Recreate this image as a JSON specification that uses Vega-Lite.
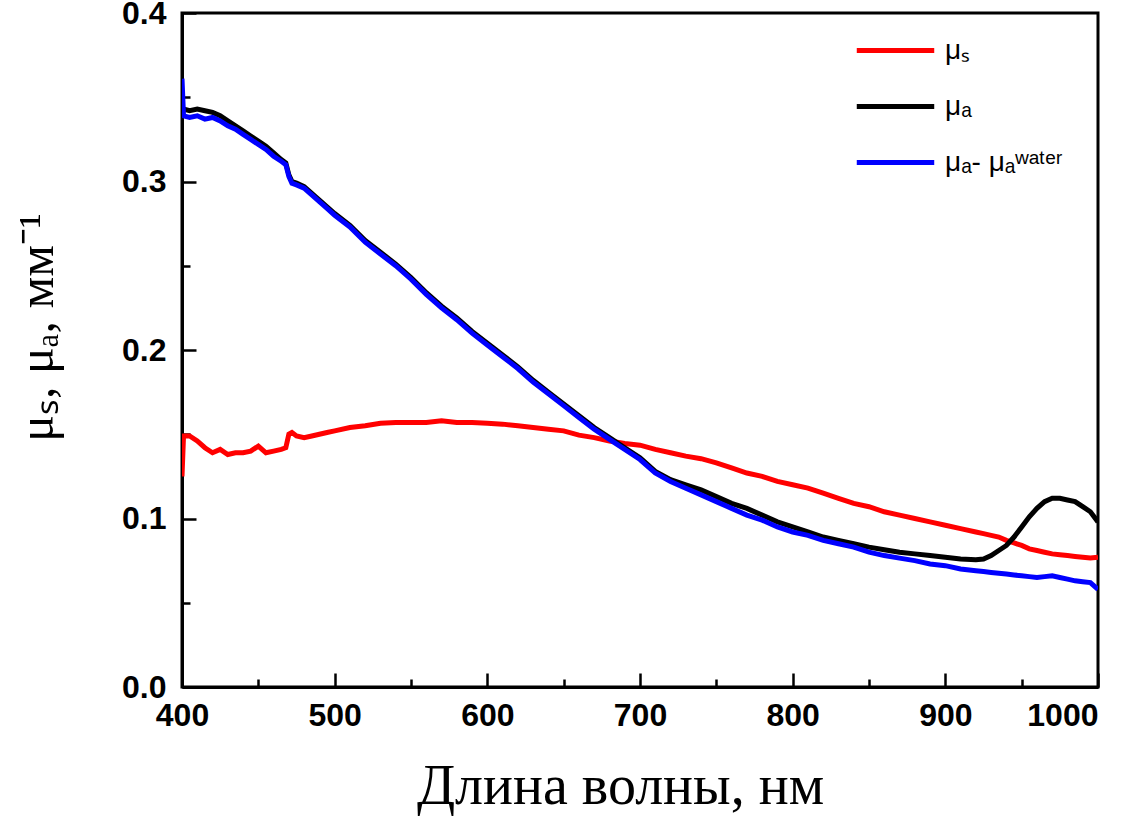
{
  "$schema": "https://vega.github.io/schema/vega-lite/v6.json",
  "autosize": "none",
  "width": 916,
  "height": 674,
  "padding": {"left": 182, "top": 13, "right": 26, "bottom": 141},
  "background": "white",
  "config": {
    "view": {"stroke": "black", "strokeWidth": 3},
    "axis": {
      "domainColor": "black", "domainWidth": 3, "tickColor": "black", "tickWidth": 2.5,
      "labelColor": "black", "titleColor": "black", "grid": false
    }
  },
  "data": {"values": [
    {"wl": 400, "mus": 0.125, "mua": 0.340, "muaw": 0.361},
    {"wl": 401, "mus": 0.149, "mua": 0.343, "muaw": 0.339},
    {"wl": 405, "mus": 0.149, "mua": 0.342, "muaw": 0.338},
    {"wl": 410, "mus": 0.146, "mua": 0.343, "muaw": 0.339},
    {"wl": 415, "mus": 0.142, "mua": 0.342, "muaw": 0.337},
    {"wl": 420, "mus": 0.139, "mua": 0.341, "muaw": 0.338},
    {"wl": 425, "mus": 0.141, "mua": 0.339, "muaw": 0.336},
    {"wl": 430, "mus": 0.138, "mua": 0.336, "muaw": 0.333},
    {"wl": 435, "mus": 0.139, "mua": 0.333, "muaw": 0.331},
    {"wl": 440, "mus": 0.139, "mua": 0.330, "muaw": 0.328},
    {"wl": 445, "mus": 0.140, "mua": 0.327, "muaw": 0.325},
    {"wl": 450, "mus": 0.143, "mua": 0.324, "muaw": 0.322},
    {"wl": 455, "mus": 0.139, "mua": 0.321, "muaw": 0.319},
    {"wl": 460, "mus": 0.140, "mua": 0.317, "muaw": 0.315},
    {"wl": 465, "mus": 0.141, "mua": 0.313, "muaw": 0.312},
    {"wl": 468, "mus": 0.142, "mua": 0.311, "muaw": 0.310},
    {"wl": 470, "mus": 0.150, "mua": 0.304, "muaw": 0.303},
    {"wl": 472, "mus": 0.151, "mua": 0.300, "muaw": 0.299},
    {"wl": 475, "mus": 0.149, "mua": 0.299, "muaw": 0.298},
    {"wl": 480, "mus": 0.148, "mua": 0.297, "muaw": 0.296},
    {"wl": 485, "mus": 0.149, "mua": 0.293, "muaw": 0.292},
    {"wl": 490, "mus": 0.150, "mua": 0.289, "muaw": 0.288},
    {"wl": 495, "mus": 0.151, "mua": 0.285, "muaw": 0.284},
    {"wl": 500, "mus": 0.152, "mua": 0.281, "muaw": 0.280},
    {"wl": 510, "mus": 0.154, "mua": 0.274, "muaw": 0.273},
    {"wl": 520, "mus": 0.155, "mua": 0.265, "muaw": 0.264},
    {"wl": 530, "mus": 0.1565, "mua": 0.258, "muaw": 0.257},
    {"wl": 540, "mus": 0.157, "mua": 0.251, "muaw": 0.250},
    {"wl": 550, "mus": 0.157, "mua": 0.243, "muaw": 0.242},
    {"wl": 560, "mus": 0.157, "mua": 0.234, "muaw": 0.233},
    {"wl": 570, "mus": 0.158, "mua": 0.226, "muaw": 0.225},
    {"wl": 580, "mus": 0.157, "mua": 0.219, "muaw": 0.218},
    {"wl": 590, "mus": 0.157, "mua": 0.211, "muaw": 0.210},
    {"wl": 600, "mus": 0.1565, "mua": 0.204, "muaw": 0.203},
    {"wl": 610, "mus": 0.156, "mua": 0.197, "muaw": 0.196},
    {"wl": 620, "mus": 0.155, "mua": 0.190, "muaw": 0.189},
    {"wl": 630, "mus": 0.154, "mua": 0.182, "muaw": 0.181},
    {"wl": 640, "mus": 0.153, "mua": 0.175, "muaw": 0.174},
    {"wl": 650, "mus": 0.152, "mua": 0.168, "muaw": 0.167},
    {"wl": 660, "mus": 0.1495, "mua": 0.161, "muaw": 0.160},
    {"wl": 670, "mus": 0.148, "mua": 0.154, "muaw": 0.153},
    {"wl": 680, "mus": 0.146, "mua": 0.148, "muaw": 0.147},
    {"wl": 690, "mus": 0.1445, "mua": 0.142, "muaw": 0.141},
    {"wl": 700, "mus": 0.1435, "mua": 0.136, "muaw": 0.135},
    {"wl": 710, "mus": 0.141, "mua": 0.128, "muaw": 0.127},
    {"wl": 720, "mus": 0.139, "mua": 0.123, "muaw": 0.122},
    {"wl": 730, "mus": 0.137, "mua": 0.120, "muaw": 0.118},
    {"wl": 740, "mus": 0.1355, "mua": 0.117, "muaw": 0.114},
    {"wl": 750, "mus": 0.133, "mua": 0.113, "muaw": 0.110},
    {"wl": 760, "mus": 0.130, "mua": 0.109, "muaw": 0.106},
    {"wl": 770, "mus": 0.127, "mua": 0.106, "muaw": 0.102},
    {"wl": 780, "mus": 0.125, "mua": 0.102, "muaw": 0.099},
    {"wl": 790, "mus": 0.122, "mua": 0.098, "muaw": 0.095},
    {"wl": 800, "mus": 0.120, "mua": 0.095, "muaw": 0.092},
    {"wl": 810, "mus": 0.118, "mua": 0.092, "muaw": 0.090},
    {"wl": 820, "mus": 0.115, "mua": 0.089, "muaw": 0.087},
    {"wl": 830, "mus": 0.112, "mua": 0.087, "muaw": 0.085},
    {"wl": 840, "mus": 0.109, "mua": 0.085, "muaw": 0.083},
    {"wl": 850, "mus": 0.107, "mua": 0.083, "muaw": 0.080},
    {"wl": 860, "mus": 0.104, "mua": 0.0815, "muaw": 0.078},
    {"wl": 870, "mus": 0.102, "mua": 0.080, "muaw": 0.0765},
    {"wl": 880, "mus": 0.100, "mua": 0.079, "muaw": 0.075},
    {"wl": 890, "mus": 0.098, "mua": 0.078, "muaw": 0.073},
    {"wl": 900, "mus": 0.096, "mua": 0.077, "muaw": 0.072},
    {"wl": 910, "mus": 0.094, "mua": 0.076, "muaw": 0.070},
    {"wl": 920, "mus": 0.092, "mua": 0.0755, "muaw": 0.069},
    {"wl": 925, "mus": 0.091, "mua": 0.076, "muaw": 0.0685},
    {"wl": 930, "mus": 0.090, "mua": 0.078, "muaw": 0.068},
    {"wl": 935, "mus": 0.089, "mua": 0.081, "muaw": 0.0675},
    {"wl": 940, "mus": 0.087, "mua": 0.084, "muaw": 0.067},
    {"wl": 945, "mus": 0.0855, "mua": 0.089, "muaw": 0.0665},
    {"wl": 950, "mus": 0.084, "mua": 0.095, "muaw": 0.066},
    {"wl": 955, "mus": 0.082, "mua": 0.101, "muaw": 0.0655},
    {"wl": 960, "mus": 0.081, "mua": 0.106, "muaw": 0.065},
    {"wl": 965, "mus": 0.080, "mua": 0.110, "muaw": 0.0655},
    {"wl": 970, "mus": 0.079, "mua": 0.112, "muaw": 0.066},
    {"wl": 975, "mus": 0.0785, "mua": 0.112, "muaw": 0.065},
    {"wl": 980, "mus": 0.078, "mua": 0.111, "muaw": 0.064},
    {"wl": 985, "mus": 0.0775, "mua": 0.110, "muaw": 0.063},
    {"wl": 990, "mus": 0.077, "mua": 0.107, "muaw": 0.0625},
    {"wl": 995, "mus": 0.0765, "mua": 0.104, "muaw": 0.062},
    {"wl": 1000, "mus": 0.077, "mua": 0.098, "muaw": 0.058}
  ]},
  "transform": [{"fold": ["mus", "mua", "muaw"], "as": ["series", "value"]}],
  "layer": [
    {
      "mark": {"type": "line", "strokeWidth": 5, "clip": true},
      "encoding": {
        "x": {
          "field": "wl", "type": "quantitative",
          "scale": {"domain": [400, 1000], "nice": false, "zero": false},
          "axis": {
            "orient": "bottom", "values": [400, 500, 600, 700, 800, 900, 1000], "format": "d",
            "tickSize": -14, "labelPadding": 27,
            "labelFont": "Liberation Sans", "labelFontWeight": "bold", "labelFontSize": 32,
            "labelAlign": {"condition": {"test": "datum.value == 1000", "value": "right"}, "value": "center"},
            "labelDx": {"condition": {"test": "datum.value == 1000", "value": 2}, "value": 0},
            "title": "Длина волны, нм",
            "titleFont": "Liberation Serif", "titleFontWeight": "normal", "titleFontSize": 56,
            "titleX": 438, "titleY": 116, "titleBaseline": "alphabetic"
          }
        },
        "y": {
          "field": "value", "type": "quantitative",
          "scale": {"domain": [0, 0.4], "nice": false},
          "axis": {
            "orient": "left", "values": [0, 0.1, 0.2, 0.3, 0.4], "format": ".1f",
            "tickSize": -14, "labelPadding": 30,
            "labelFont": "Liberation Sans", "labelFontWeight": "bold", "labelFontSize": 32,
            "title": "μₛ, μₐ, мм⁻¹",
            "titleFont": "Liberation Serif", "titleFontWeight": "normal", "titleFontSize": 50,
            "titleX": -130, "titleY": 314, "titleBaseline": "alphabetic", "titleAngle": -90
          }
        },
        "color": {
          "field": "series", "type": "nominal",
          "scale": {"domain": ["mus", "mua", "muaw"], "range": ["#ff0000", "#000000", "#0000ff"]},
          "legend": {
            "title": null, "orient": "none", "legendX": 672, "legendY": -4,
            "symbolType": "stroke", "symbolSize": 6000, "symbolStrokeWidth": 5,
            "labelFont": "Liberation Sans", "labelFontSize": 28, "labelColor": "black",
            "rowPadding": -20, "labelOffset": 8,
            "labelExpr": "datum.value == 'mus' ? 'μₛ' : datum.value == 'mua' ? 'μₐ' : 'μₐ- μₐʷᵃᵗᵉʳ'"
          }
        }
      }
    },
    {
      "mark": {"type": "point", "opacity": 0},
      "encoding": {
        "x": {
          "field": "wl", "type": "quantitative",
          "axis": {"orient": "bottom", "values": [450, 550, 650, 750, 850, 950], "tickSize": -8, "labels": false, "domain": false, "title": null}
        },
        "y": {
          "field": "value", "type": "quantitative",
          "axis": {"orient": "left", "values": [0.05, 0.15, 0.25, 0.35], "tickSize": -8, "labels": false, "domain": false, "title": null}
        }
      }
    }
  ],
  "resolve": {"axis": {"x": "independent", "y": "independent"}}
}
